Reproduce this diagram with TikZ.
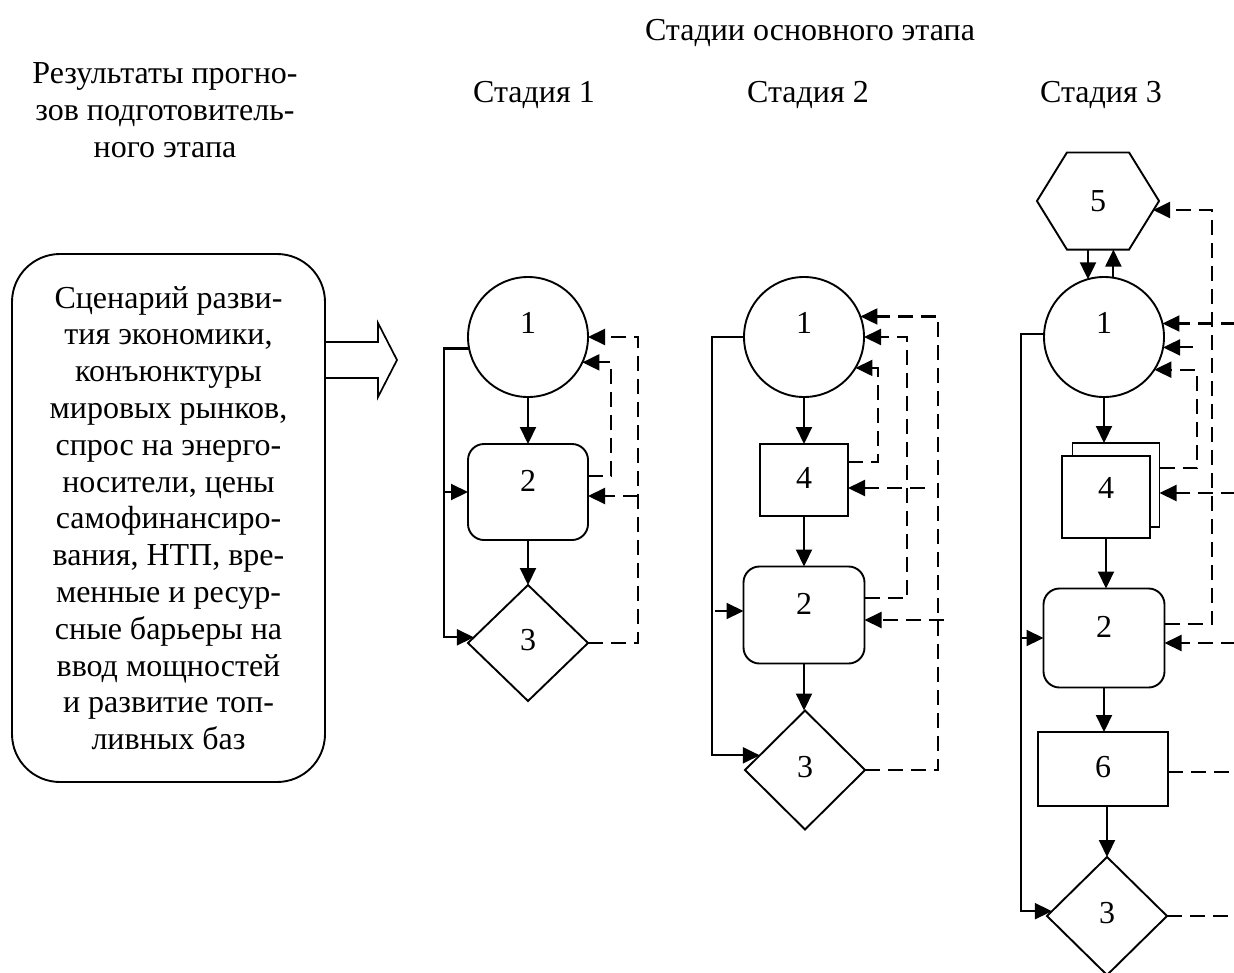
\documentclass[tikz,border=0pt]{standalone}
\usepackage{fontspec}
\setmainfont{Liberation Serif}
\usetikzlibrary{arrows.meta,shapes.geometric,calc}
\begin{document}
\begin{tikzpicture}[x=1pt,y=-1pt,
  line width=2.1pt,
  every node/.style={font=\fontsize{32}{36.8}\selectfont},
  shp/.style={draw, line width=1.9pt, inner sep=0pt, outer sep=0pt},
  circ/.style={shp, circle, minimum size=120pt, text height=22pt, text depth=30pt},
  rbox/.style={shp, rectangle, rounded corners=16pt, minimum width=121pt, minimum height=97pt, text height=22pt, text depth=24pt},
  sbox/.style={shp, rectangle, minimum width=88pt, minimum height=72pt, text height=22pt, text depth=6pt},
  dia/.style={shp, diamond, minimum width=120pt, minimum height=118pt, text height=22pt, text depth=8pt},
  flow/.style={-{Triangle[length=17pt,width=16pt]}, line width=2.1pt},
  dflow/.style={-{Triangle[length=17pt,width=16pt]}, line width=2.1pt, dash pattern=on 15pt off 8pt},
  dline/.style={line width=2.1pt, dash pattern=on 15pt off 8pt},
]
\useasboundingbox (0,0) rectangle (1234,972);

% headers
\node (T) at (810,33) {Стадии основного этапа};
\node[align=center] (R) at (165,110) {Результаты прогно-\\зов подготовитель-\\ного этапа};
\node (S1) at (534,95) {Стадия 1};
\node (S2) at (808,95) {Стадия 2};
\node (S3) at (1101,95) {Стадия 3};

% left box
\node[shp, rounded corners=48pt, minimum width=313pt, minimum height=528pt, align=center] (L) at (168.5,518)
 {Сценарий разви-\\тия экономики,\\конъюнктуры\\мировых рынков,\\спрос на энерго-\\носители, цены\\самофинансиро-\\вания, НТП, вре-\\менные и ресур-\\сные барьеры на\\ввод мощностей\\и развитие топ-\\ливных баз};
\draw[line width=1.7pt] ([yshift=176pt]L.east) -- ++(53,0) -- ++(0,-19) -- ++(19,37) -- ++(-19,37) -- ++(0,-19) -- ([yshift=140pt]L.east);

% ---------- Stage 1
\node[circ] (a1) at (528,337) {1};
\node[rbox, minimum width=120pt, minimum height=96pt] (a2) at (528,492) {2};
\node[dia, minimum height=116pt] (a3) at (528,643) {3};
\draw[flow] (a1) -- (a2);
\draw[flow] (a2) -- (a3);
\coordinate (ab) at (444,0);
\coordinate (ao) at (638,0);
\coordinate (ai) at (611,0);
\draw[flow] (a1.191) -| (ab |- a3.174) -- (a3.174);
\draw[flow] (ab |- a2.west) -- (a2.west);
\draw[dflow] (a3.east) -| (ao |- a1.east) -- (a1.east);
\coordinate (a2in) at ([yshift=-4pt]a2.east);
\draw[dflow] (ao |- a2in) -- (a2in);
\draw[dflow] ([yshift=16pt]a2.east) -| (ai |- a1.335) -- (a1.335);

% ---------- Stage 2
\node[circ] (b1) at (804,337) {1};
\node[sbox] (b4) at (804,480) {4};
\node[rbox] (b2) at (804,615) {2};
\node[dia, minimum height=119pt] (b3) at (805,770) {3};
\draw[flow] (b1) -- (b4);
\draw[flow] (b4) -- (b2);
\draw[flow] (b2.south) -- (b2.south |- b3.north);
\coordinate (bb) at (712,0);
\coordinate (bo) at (938,0);
\coordinate (bm) at (907,0);
\coordinate (bi) at (878,0);
\draw[flow] (b1.west) -| (bb |- b3.162) -- (b3.162);
\coordinate (b2l) at ([yshift=4pt]b2.west);
\draw[flow] ([xshift=3pt]bb |- b2l) -- (b2l);
\draw[dflow] (b3.east) -| (bo |- b1.20) -- (b1.20);
\coordinate (b2in) at ([yshift=-5pt]b2.east);
\draw[dflow] ([xshift=6pt]bo |- b2in) -- (b2in);
\draw[dflow] ([yshift=17pt]b2.east) -| (bm |- b1.east) -- (b1.east);
\coordinate (b4in) at ([yshift=-8pt]b4.east);
\coordinate (b4s) at (925,0);
\draw[dflow] (b4s |- b4in) -- (b4in);
\draw[dflow] ([yshift=18pt]b4.east) -| (bi |- b1.329) -- (b1.329);

% ---------- Stage 3
\node[inner sep=0pt, minimum width=120pt, minimum height=95pt] (c5) at (1098,201) {5};
\draw[line width=1.9pt] (c5.west) -- ([xshift=30pt]c5.north west) -- ([xshift=-30pt]c5.north east) -- (c5.east) -- ([xshift=-30pt]c5.south east) -- ([xshift=30pt]c5.south west) -- cycle;
\node[circ] (c1) at (1104,337) {1};
\node[shp, fill=white, minimum width=87pt, minimum height=84pt] (c4b) at (1116,485) {};
\node[shp, fill=white, minimum width=88pt, minimum height=82pt, text height=22pt, text depth=20pt] (c4) at (1106,497) {4};
\node[rbox, minimum height=99pt] (c2) at (1104,638) {2};
\node[shp, rectangle, minimum width=130pt, minimum height=74pt, text height=22pt, text depth=6pt] (c6) at (1103,769) {6};
\node[dia] (c3) at (1107,916) {3};
\draw[flow] ([xshift=-10pt]c5.south) -- ([xshift=-10pt]c5.south |- c1.106);
\draw[flow] (c1.81) -- (c1.81 |- c5.south);
\draw[flow] (c1.south) -- (c1.south |- c4b.north);
\draw[flow] (c4.south) -- (c4.south |- c2.north);
\draw[flow] (c2.south) -- (c2.south |- c6.north);
\draw[flow] (c3.north |- c6.south) -- (c3.north);
\coordinate (cb) at (1021,0);
\coordinate (co) at (1212,0);
\coordinate (ci) at (1197,0);
\coordinate (ce) at (1236,0);
\draw[flow] (c1.177) -| (cb |- c3.175) -- (c3.175);
\draw[flow] (cb |- c2.west) -- (c2.west);
\coordinate (c5in) at ([xshift=-6pt,yshift=-9pt]c5.east);
\draw[dflow] ([yshift=14pt]c2.east) -| (co |- c5in) -- (c5in);
\draw[dflow] ([xshift=-19pt]co |- c1.350) -- (c1.350);
\draw[dflow] (ce |- c1.13) -- (c1.13);
\draw[dflow] ([yshift=17pt]c4b.east) -| (ci |- c1.327) -- (c1.327);
\coordinate (c4in) at ([yshift=-8pt]c4b.east);
\draw[dflow] (ce |- c4in) -- (c4in);
\coordinate (c2in) at ([yshift=-5pt]c2.east);
\draw[dflow] (ce |- c2in) -- (c2in);
\coordinate (c6out) at ([yshift=-3pt]c6.east);
\draw[dline] (c6out) -- (ce |- c6out);
\draw[dline] (c3.east) -- (ce |- c3.east);
\end{tikzpicture}
\end{document}
